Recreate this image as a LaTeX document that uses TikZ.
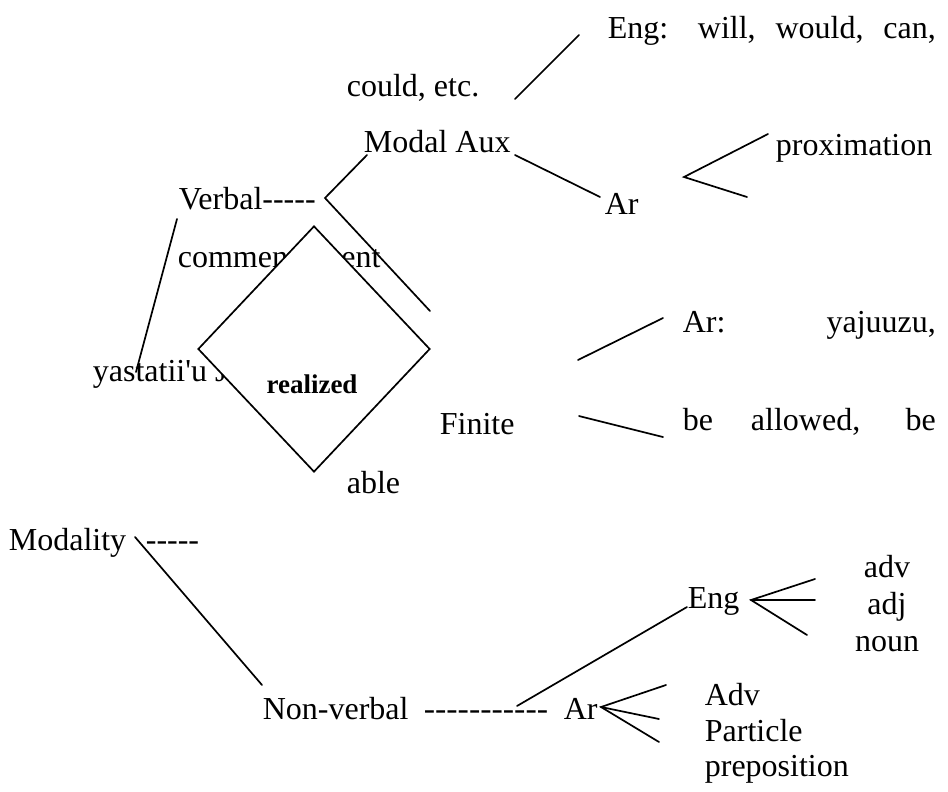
\documentclass[tikz,border=0pt]{standalone}
\usepackage{fontspec}
\setmainfont{Liberation Serif}[Ligatures=TeXOff]
\usetikzlibrary{shapes.geometric}
\begin{document}
\begin{tikzpicture}[x=1pt,y=-1pt, line width=1.7pt,
  lbl/.style={anchor=base west, inner sep=0pt, font=\fontsize{32}{38}\selectfont},
  clbl/.style={anchor=base, inner sep=0pt, font=\fontsize{32}{38}\selectfont},
  conn/.style={line width=1.7pt, line cap=round}]
\useasboundingbox (0,0) rectangle (948,792);
% upper texts
\node[lbl] (engwill) at (607,39) {\makebox[328pt][s]{Eng: will, would, can,}};
\node[lbl] (could) at (346,96) {could, etc.};
\node[lbl] (modal) at (363,152) {Modal Aux};
\node[lbl] (prox) at (775,155) {proximation};
\node[lbl] (verbal) at (178,209) {Verbal-----};
\node[lbl] (ar1) at (604,214) {Ar};
\node[lbl] (comm) at (177,267) {commencement};
\node[lbl] (yas) at (92,381) {yastatii'u J};
% diamond covering text
\node[diamond, draw, fill=white, line width=1.7pt, minimum width=232pt, minimum height=246pt, inner sep=0pt] (dia) at (314,349) {};
\node[anchor=base, inner sep=0pt, font=\bfseries\fontsize{27}{32}\selectfont] (real) at (312,393) {realized};
\node[lbl] (able) at (346,493) {able};
\node[lbl] (finite) at (439,434) {Finite};
\node[lbl] (aryaj) at (682,332) {\makebox[253pt][s]{Ar: yajuuzu,}};
\node[lbl] (beall) at (682,430) {\makebox[253pt][s]{be allowed, be}};
% lower texts
\node[lbl] (modality) at (8,550) {Modality};
\node[lbl] (mdash) at (145,550) {-----};
\node[lbl] (nonverbal) at (262,719) {Non-verbal};
\node[lbl] (ndash) at (423,719) {\scalebox{1.06}[1]{-----------}};
\node[lbl] (ar2) at (563,719) {Ar};
\node[lbl] (eng2) at (687,608) {Eng};
\node[clbl] (adv) at (887,577) {adv};
\node[clbl] (adj) at (887,614) {adj};
\node[clbl] (noun) at (887,651) {noun};
\node[lbl] (Adv) at (704,705) {Adv};
\node[lbl] (particle) at (704,741) {Particle};
\node[lbl] (prep) at (704,776) {preposition};
% coordinates
\coordinate (vf) at (325,198);
\coordinate (vfu) at (367,155);
\coordinate (vfd) at (430,311);
\coordinate (ma1) at (515,155);
\coordinate (ma2) at (600,197);
\coordinate (ew1) at (515,99);
\coordinate (ew2) at (579,35);
\coordinate (pf) at (684,177);
\coordinate (pfu) at (768,134);
\coordinate (pfd) at (747,197);
\coordinate (fu1) at (578,360);
\coordinate (fu2) at (663,318);
\coordinate (fd1) at (579,416);
\coordinate (fd2) at (663,437);
\coordinate (vy1) at (177,219);
\coordinate (vy2) at (136,372);
\coordinate (mo1) at (135,537);
\coordinate (mo2) at (262,685);
\coordinate (ne1) at (517,706);
\coordinate (ne2) at (687,607);
\coordinate (af) at (601,707);
\coordinate (afu) at (666,685);
\coordinate (afm) at (659,719);
\coordinate (afd) at (659,742);
\coordinate (ef) at (751,600);
\coordinate (efu) at (815,579);
\coordinate (efm) at (815,600);
\coordinate (efd) at (807,635);
% connectors
\draw[conn] (vfu) -- (vf) -- (vfd);
\draw[conn] (ma1) -- (ma2);
\draw[conn] (ew1) -- (ew2);
\draw[conn] (pfu) -- (pf) -- (pfd);
\draw[conn] (fu1) -- (fu2);
\draw[conn] (fd1) -- (fd2);
\draw[conn] (vy1) -- (vy2);
\draw[conn] (mo1) -- (mo2);
\draw[conn] (ne1) -- (ne2);
\draw[conn] (afu) -- (af) -- (afd);
\draw[conn] (af) -- (afm);
\draw[conn] (efu) -- (ef) -- (efd);
\draw[conn] (ef) -- (efm);
\end{tikzpicture}
\end{document}
